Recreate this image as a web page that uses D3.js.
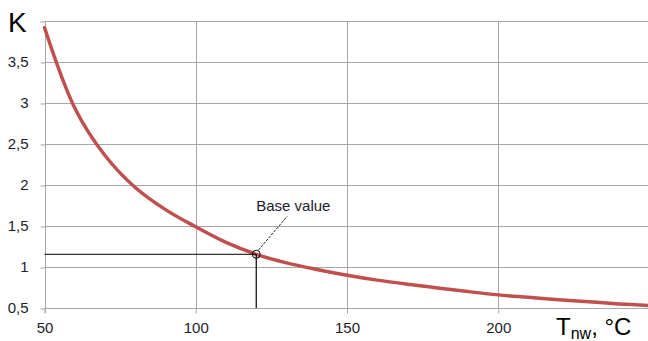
<!DOCTYPE html>
<html>
<head>
<meta charset="utf-8">
<script src="https://cdn.jsdelivr.net/npm/d3@7"></script>
<style>
  body { margin: 0; background: #fff; }
  svg { display: block; font-family: "Liberation Sans", Arial, sans-serif; }
</style>
</head>
<body>
<svg id="chart" width="648" height="341"></svg>
<script>
// temperature T_nw, °C
var temps = [50, 60, 70, 80, 90, 100, 110, 120, 130, 140, 150, 160, 170, 180, 190, 200, 210, 220, 230, 240, 250];
// coefficient K
var kValues = [3.92, 2.94, 2.36, 1.97, 1.70, 1.49, 1.30, 1.155, 1.05, 0.97, 0.90, 0.84, 0.79, 0.745, 0.70, 0.66, 0.63, 0.60, 0.575, 0.55, 0.53];
var xTicks = [50, 100, 150, 200, 250];
var yTicks = [0.5, 1, 1.5, 2, 2.5, 3, 3.5, 4];
var baseT = 120, baseK = 1.155;
var baseLabel = "Base value";

var svg = d3.select("#chart");
var plotLeft = 44.5, plotRight = 649.5, plotTop = 21, plotBottom = 308;

var x = d3.scaleLinear().domain([50, 250]).range([plotLeft, plotRight]);
var y = d3.scaleLinear().domain([0.5, 4]).range([plotBottom, plotTop]);

var fmt = d3.formatLocale({ decimal: ",", thousands: " ", grouping: [3], currency: ["", ""] }).format("~g");
var gridColor = "#a6a6a6";
var textColor = "#1c1c2c";

// horizontal grid lines
svg.append("g").selectAll("line").data(yTicks).enter().append("line")
  .attr("x1", plotLeft).attr("x2", plotRight)
  .attr("y1", function (d) { return Math.round(y(d)) + 0.5; })
  .attr("y2", function (d) { return Math.round(y(d)) + 0.5; })
  .attr("stroke", gridColor).attr("stroke-width", 1);

// vertical grid lines
svg.append("g").selectAll("line").data(xTicks.slice(1)).enter().append("line")
  .attr("x1", function (d) { return Math.round(x(d)) + 0.5; })
  .attr("x2", function (d) { return Math.round(x(d)) + 0.5; })
  .attr("y1", plotTop).attr("y2", plotBottom)
  .attr("stroke", gridColor).attr("stroke-width", 1);

// y axis
var yAxis = svg.append("g").attr("transform", "translate(" + (Math.round(plotLeft) + 0.5) + ",0)")
  .call(d3.axisLeft(y).tickValues(yTicks).tickSize(5).tickPadding(12)
    .tickFormat(function (d) { return d === 4 ? "" : fmt(d); }));
yAxis.select(".domain").remove();
yAxis.selectAll(".tick line").attr("stroke", gridColor).attr("transform", "translate(0,0.5)");
yAxis.selectAll("text").attr("fill", textColor).style("font-size", "15px")
  .style("font-family", "'Liberation Sans', Arial, sans-serif");
yAxis.append("line").attr("x1", 0).attr("x2", 0).attr("y1", plotTop).attr("y2", plotBottom + 5)
  .attr("stroke", gridColor);

// x axis
var xAxis = svg.append("g").attr("transform", "translate(0," + (Math.round(plotBottom) + 0.5) + ")")
  .call(d3.axisBottom(x).tickValues(xTicks.slice(0, 4)).tickSize(5).tickPadding(9)
    .tickFormat(fmt));
xAxis.select(".domain").remove();
xAxis.selectAll(".tick line").attr("stroke", gridColor);
xAxis.selectAll("text").attr("fill", textColor).style("font-size", "15px")
  .style("font-family", "'Liberation Sans', Arial, sans-serif");
xAxis.append("line").attr("x1", plotLeft).attr("x2", plotRight).attr("y1", 0).attr("y2", 0)
  .attr("stroke", gridColor);

// curve
var line = d3.line()
  .x(function (d, i) { return x(temps[i]); })
  .y(function (d) { return y(d); })
  .curve(d3.curveCatmullRom.alpha(0.5));

svg.append("path").datum(kValues)
  .attr("d", line)
  .attr("fill", "none")
  .attr("stroke", "#c0504d")
  .attr("stroke-width", 3.5)
  .attr("stroke-linecap", "round");

// base value guides
var bx = x(baseT), by = y(baseK);
svg.append("line").attr("x1", plotLeft).attr("x2", bx).attr("y1", by).attr("y2", by)
  .attr("stroke", "#000").attr("stroke-width", 1);
svg.append("line").attr("x1", bx).attr("x2", bx).attr("y1", by).attr("y2", plotBottom)
  .attr("stroke", "#000").attr("stroke-width", 1.2);
svg.append("circle").attr("cx", bx).attr("cy", by).attr("r", 4)
  .attr("fill", "none").attr("stroke", "#000").attr("stroke-width", 1);
svg.append("line").attr("x1", bx + 2).attr("y1", by - 4).attr("x2", bx + 31).attr("y2", by - 38)
  .attr("stroke", "#000").attr("stroke-width", 0.8).attr("stroke-dasharray", "3,1");
svg.append("text").attr("x", bx).attr("y", by - 43)
  .attr("fill", textColor).style("font-size", "15px").text(baseLabel);

// axis titles
svg.append("text").attr("x", 8).attr("y", 32).attr("fill", "#000")
  .style("font-size", "28px").text("K");

var tTitle = svg.append("text").attr("x", 556).attr("y", 335).attr("fill", "#000")
  .style("font-size", "24px");
tTitle.append("tspan").text("T");
tTitle.append("tspan").attr("dy", 4).style("font-size", "16px").text("nw");
tTitle.append("tspan").attr("dy", -4).text(", °C");
</script>
</body>
</html>
